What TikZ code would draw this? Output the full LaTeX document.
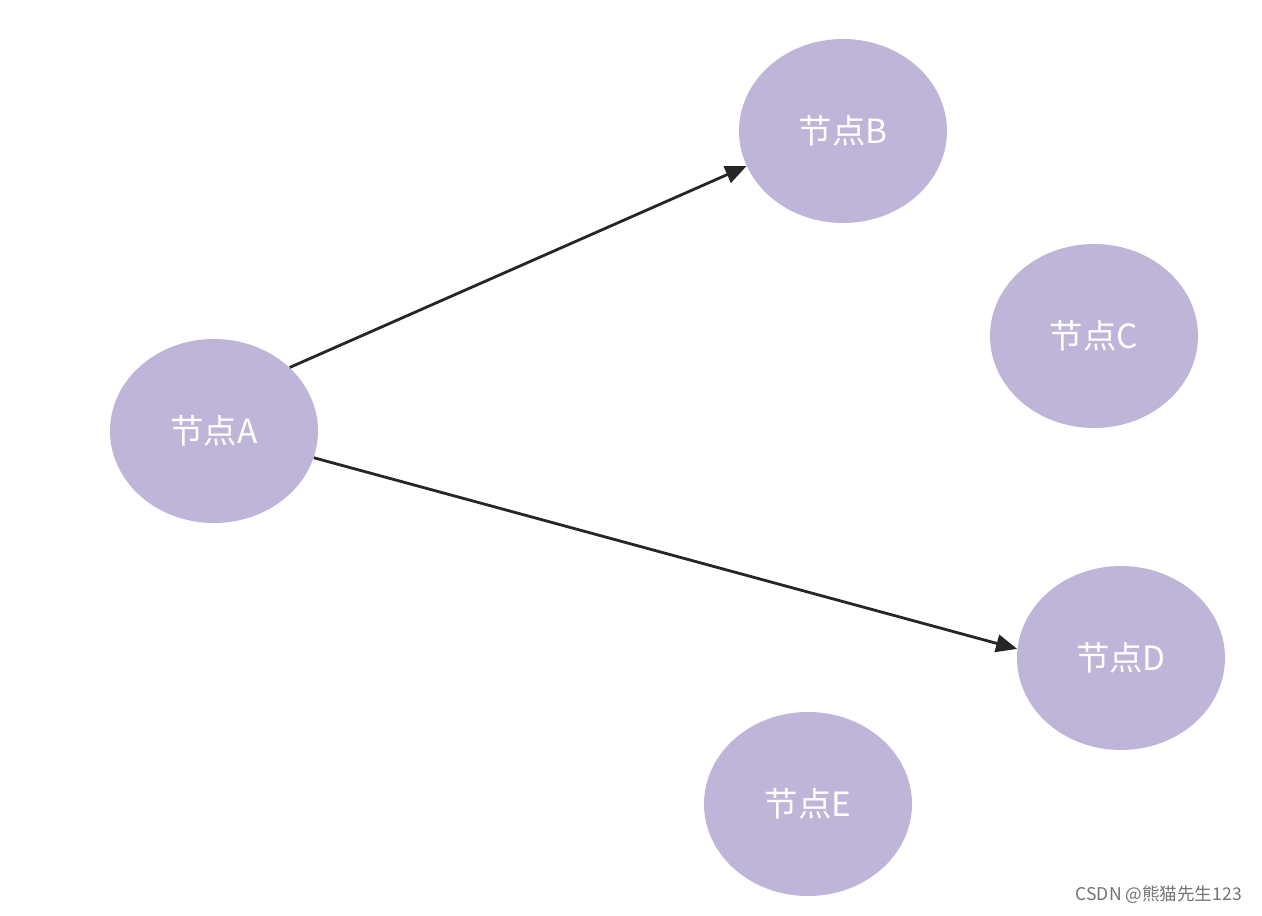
\documentclass[tikz,border=0pt]{standalone}
\usepackage{fontspec}
\newfontfamily\cjk{Noto Sans CJK SC}
\usetikzlibrary{arrows.meta}
\definecolor{nodefill}{HTML}{BEB5D8}
\tikzset{
  nd/.style={ellipse, fill=nodefill, minimum width=208*0.02cm, minimum height=184*0.02cm, text=white, font=\cjk\fontsize{19}{22}\selectfont, inner sep=0pt},
  conn/.style={line width=1.6pt, -{Triangle[length=12pt,width=10pt]}, black!85}
}
\usetikzlibrary{shapes.geometric}
\begin{document}
\begin{tikzpicture}[x=0.02cm,y=-0.02cm]
\useasboundingbox (0,0) rectangle (1262,916);
\node[nd] (A) at (214,431) {节点A};
\node[nd] (B) at (843,131) {节点B};
\node[nd] (C) at (1094,336) {节点C};
\node[nd] (D) at (1121,658) {节点D};
\node[nd] (E) at (808,804) {节点E};
\draw[conn] (A.40) -- (B.200);
\draw[conn] (A.-15) -- (D.175);
\node[font=\cjk\fontsize{10}{12}\selectfont, text=black!55, anchor=east] (wm) at (1248,895) {CSDN @熊猫先生123};
\end{tikzpicture}
\end{document}
